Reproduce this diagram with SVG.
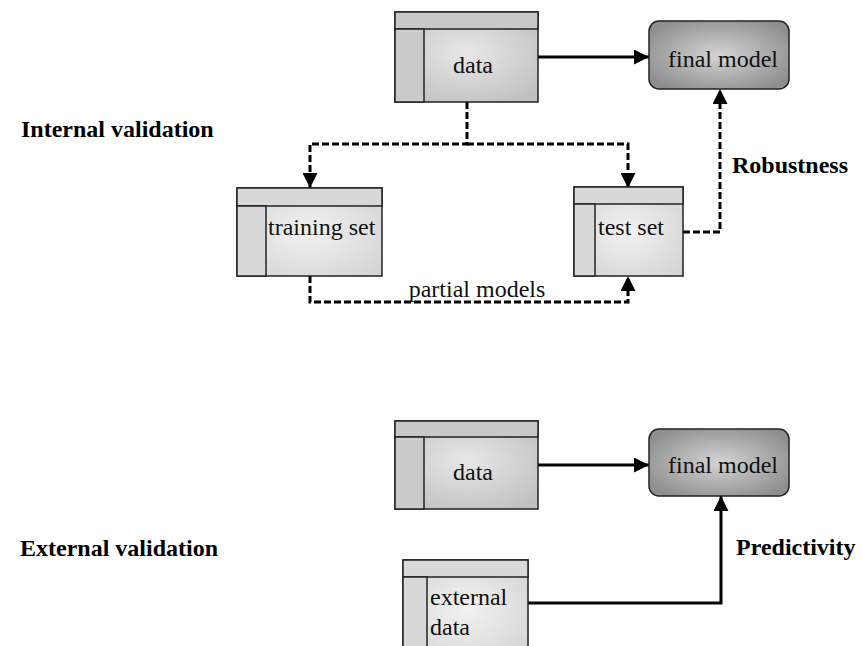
<svg xmlns="http://www.w3.org/2000/svg" width="862" height="646" viewBox="0 0 862 646">
<defs>
<radialGradient id="gData" cx="50%" cy="45%" r="65%">
<stop offset="0" stop-color="#e8e8e8"/><stop offset="1" stop-color="#c0c0c0"/>
</radialGradient>
<radialGradient id="gLight" cx="50%" cy="50%" r="65%">
<stop offset="0" stop-color="#f2f2f2"/><stop offset="1" stop-color="#d4d4d4"/>
</radialGradient>
<radialGradient id="gModel" cx="50%" cy="50%" r="60%">
<stop offset="0" stop-color="#d4d4d4"/><stop offset="1" stop-color="#8e8e8e"/>
</radialGradient>
<marker id="ah" viewBox="0 0 10 10" refX="10" refY="5" markerWidth="5" markerHeight="5" markerUnits="strokeWidth" orient="auto">
<path d="M0,0 L10,5 L0,10 z" fill="#000"/>
</marker>
</defs>
<style>
.box{stroke:#222;stroke-width:1.5}
.hdr{fill:#c8c8c8;stroke:#222;stroke-width:1.5}
.hdrl{fill:#d8d8d8;stroke:#222;stroke-width:1.5}
.side{fill:#cacaca;stroke:#222;stroke-width:1.5}
.sidel{fill:#d8d8d8;stroke:#222;stroke-width:1.5}
.t{font-family:"Liberation Serif","Times New Roman",serif;font-size:24px;fill:#111}
.b{font-family:"Liberation Serif","Times New Roman",serif;font-size:24px;font-weight:bold;fill:#000}
.solid{fill:none;stroke:#000;stroke-width:3}
.dash{fill:none;stroke:#000;stroke-width:3;stroke-dasharray:7 3}
</style>
<rect width="862" height="646" fill="#fff"/>

<text class="b" x="21" y="137">Internal validation</text>
<text class="b" x="20" y="556">External validation</text>
<text class="b" x="732" y="173">Robustness</text>
<text class="b" x="736" y="555">Predictivity</text>

<g id="connectors">
<path class="solid" d="M538,57 H649" marker-end="url(#ah)"/>
<path class="dash" d="M467,102 V144 H310 V188" marker-end="url(#ah)"/>
<path class="dash" d="M467,144 H628 V188" marker-end="url(#ah)"/>
<path class="dash" d="M683,232 H720 V89" marker-end="url(#ah)"/>
<path class="dash" d="M310,276 V302 H628 V276" marker-end="url(#ah)"/>
<path class="solid" d="M538,465 H649" marker-end="url(#ah)"/>
<path class="solid" d="M528,603 H721 V496" marker-end="url(#ah)"/>
</g>
<text class="t" x="477" y="297" text-anchor="middle">partial models</text>

<g id="data1">
<rect class="box" x="395" y="12" width="143" height="90" fill="url(#gData)"/>
<rect class="hdr" x="395" y="12" width="143" height="17"/>
<rect class="side" x="395" y="29" width="29" height="73"/>
<text class="t" x="473" y="73" text-anchor="middle">data</text>
</g>

<g id="final1">
<rect class="box" x="649" y="21" width="140" height="68" rx="10" fill="url(#gModel)"/>
<text class="t" x="723" y="67" text-anchor="middle">final model</text>
</g>

<g id="training">
<rect class="box" x="237" y="188" width="145" height="88" fill="url(#gLight)"/>
<rect class="hdrl" x="237" y="188" width="145" height="18"/>
<rect class="sidel" x="237" y="206" width="29" height="70"/>
<text class="t" x="268" y="235">training set</text>
</g>

<g id="testset">
<rect class="box" x="574" y="187" width="109" height="89" fill="url(#gLight)"/>
<rect class="hdrl" x="574" y="187" width="109" height="17"/>
<rect class="sidel" x="574" y="204" width="21" height="72"/>
<text class="t" x="598" y="235">test set</text>
</g>

<g id="data2">
<rect class="box" x="395" y="421" width="143" height="88" fill="url(#gData)"/>
<rect class="hdr" x="395" y="421" width="143" height="16"/>
<rect class="side" x="395" y="437" width="29" height="72"/>
<text class="t" x="473" y="480" text-anchor="middle">data</text>
</g>

<g id="final2">
<rect class="box" x="649" y="429" width="140" height="67" rx="10" fill="url(#gModel)"/>
<text class="t" x="723" y="473" text-anchor="middle">final model</text>
</g>

<g id="external">
<rect class="box" x="403" y="560" width="125" height="100" fill="url(#gLight)"/>
<rect class="hdrl" x="403" y="560" width="125" height="17"/>
<rect class="sidel" x="403" y="577" width="24" height="83"/>
<text class="t" x="430" y="605">external</text>
<text class="t" x="430" y="635">data</text>
</g>
</svg>
